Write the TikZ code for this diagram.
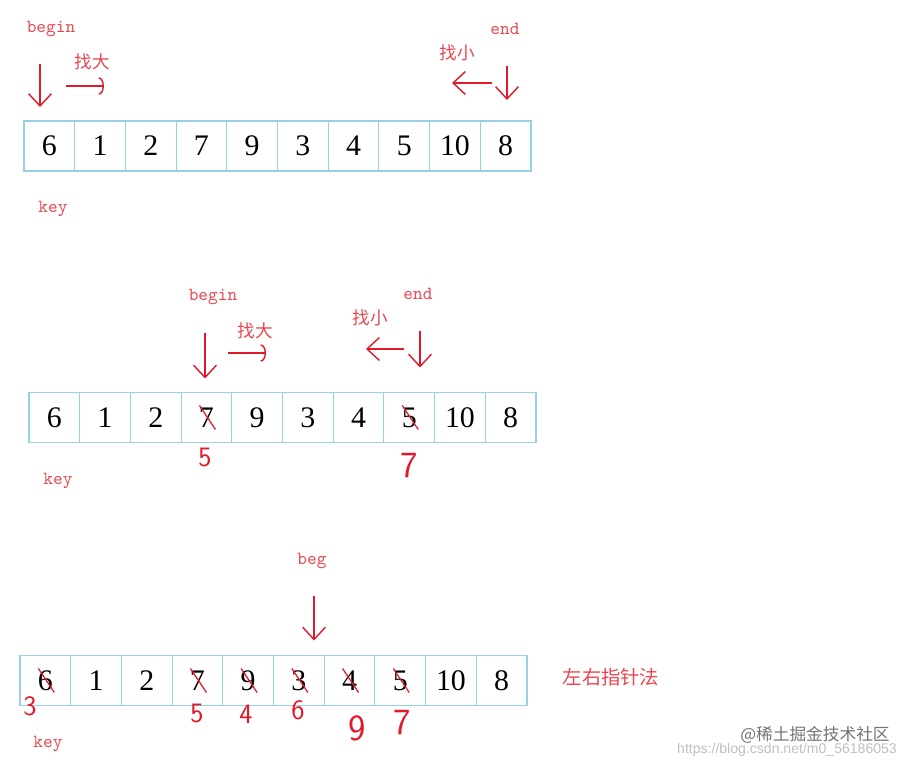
\documentclass[tikz,border=0pt]{standalone}
\usepackage{fontspec}
\setmainfont{Liberation Serif}
\newfontfamily\cjk{Noto Sans CJK SC}
\newfontfamily\wmfont{Liberation Sans}
\usetikzlibrary{positioning, arrows.meta}

\definecolor{boxblue}{RGB}{150,210,225}
\definecolor{labred}{RGB}{235,70,80}
\definecolor{penred}{RGB}{225,25,40}

\tikzset{
    cell/.style={draw=boxblue, line width=0.6pt, minimum width=1.014cm, minimum height=1cm,
        inner sep=0pt, outer sep=0pt, font=\fontsize{17}{17}\selectfont},
    tag/.style={text=labred, font=\ttfamily\fontsize{10.5}{12}\selectfont},
    hint/.style={text=labred, font=\cjk\fontsize{10}{12}\selectfont},
    ptr/.style={penred, line width=0.8pt, -{Straight Barb[length=7pt,width=13pt]}},
    hook/.style={penred, line width=0.8pt, -{Arc Barb[length=3pt,width=10pt]}},
    strike/.style={penred, line width=0.7pt},
    scrawl/.style={text=penred, inner sep=0pt, font=\sffamily\fontsize{16}{16}\selectfont},
    tallscrawl/.style={scrawl, font=\sffamily\fontsize{21}{21}\selectfont},
}

\begin{document}
\begin{tikzpicture}[x=0.02cm, y=-0.02cm]
    \useasboundingbox (0,0) rectangle (917,767);

    % First pass
    \foreach \v [count=\i] in {6,1,2,7,9,3,4,5,10,8}
        \node[cell] (a\i) at ({24+50.7*\i-25.35},146) {\v};
    \node[tag] (beg1) at (51,29) {begin};
    \node[tag] (end1) at (505,29) {end};
    \node[hint] (big1) at (92,62) {找大};
    \node[hint] (small1) at (457,53) {找小};
    \node[tag] (key1) at (53,209) {key};
    \coordinate (bt1) at (40,64);
    \coordinate (et1) at (507,66);
    \coordinate (r1a) at (66,86);
    \coordinate (r1b) at (104,86);
    \coordinate (l1a) at (492,83);
    \coordinate (l1b) at (452,83);
    \draw[ptr, shorten >=0.28cm] (bt1) -- (bt1 |- a1.north);
    \draw[ptr, shorten >=0.42cm] (et1) -- (et1 |- a10.north);
    \draw[hook] (r1a) -- (r1b);
    \draw[ptr] (l1a) -- (l1b);

    % Second pass
    \foreach \v [count=\i] in {6,1,2,7,9,3,4,5,10,8}
        \node[cell] (b\i) at ({29+50.7*\i-25.35},417.5) {\v};
    \node[tag] (beg2) at (213,297) {begin};
    \node[tag] (end2) at (418,294) {end};
    \node[hint] (big2) at (255,331) {找大};
    \node[hint] (small2) at (370,318) {找小};
    \node[tag] (key2) at (58,481) {key};
    \coordinate (bt2) at (205,333);
    \coordinate (et2) at (420,331);
    \coordinate (r2a) at (228,353);
    \coordinate (r2b) at (266,353);
    \coordinate (l2a) at (404,349);
    \coordinate (l2b) at (366,349);
    \draw[ptr, shorten >=0.28cm] (bt2) -- (bt2 |- b4.north);
    \draw[ptr, shorten >=0.5cm] (et2) -- (et2 |- b8.north);
    \draw[hook] (r2a) -- (r2b);
    \draw[ptr] (l2a) -- (l2b);
    \foreach \c in {4,8}
        \draw[strike] ([shift={(-7,-12)}]b\c.center) -- ([shift={(9,12)}]b\c.center);
    \node[scrawl] (s2a) at (205,458) {5};
    \node[tallscrawl] (s2b) at (409,466) {7};

    % Third pass
    \foreach \v [count=\i] in {6,1,2,7,9,3,4,5,10,8}
        \node[cell] (c\i) at ({20+50.7*\i-25.35},680.5) {\v};
    \node[tag] (beg3) at (312,561) {beg};
    \node[tag] (key3) at (48,744) {key};
    \node[hint, font=\cjk\fontsize{11}{13}\selectfont] (name3) at (611,677) {左右指针法};
    \coordinate (bt3) at (314,596);
    \draw[ptr, shorten >=0.3cm] (bt3) -- (bt3 |- c6.north);
    \foreach \c in {1,4,5,6,7,8}
        \draw[strike] ([shift={(-7,-12)}]c\c.center) -- ([shift={(9,12)}]c\c.center);
    \node[scrawl] (s3a) at (30,706) {3};
    \node[scrawl] (s3b) at (197,714) {5};
    \node[scrawl] (s3c) at (246,714) {4};
    \node[scrawl] (s3d) at (298,710) {6};
    \node[tallscrawl] (s3e) at (357,728) {9};
    \node[tallscrawl] (s3f) at (402,723) {7};

    % watermark
    \node[text=black!55, font=\cjk\fontsize{9.5}{11}\selectfont] (wm1) at (815,735) {@稀土掘金技术社区};
    \node[text=black!25, font=\wmfont\fontsize{8}{9}\selectfont] (wm2) at (787,750) {https://blog.csdn.net/m0\_56186053};
\end{tikzpicture}
\end{document}
